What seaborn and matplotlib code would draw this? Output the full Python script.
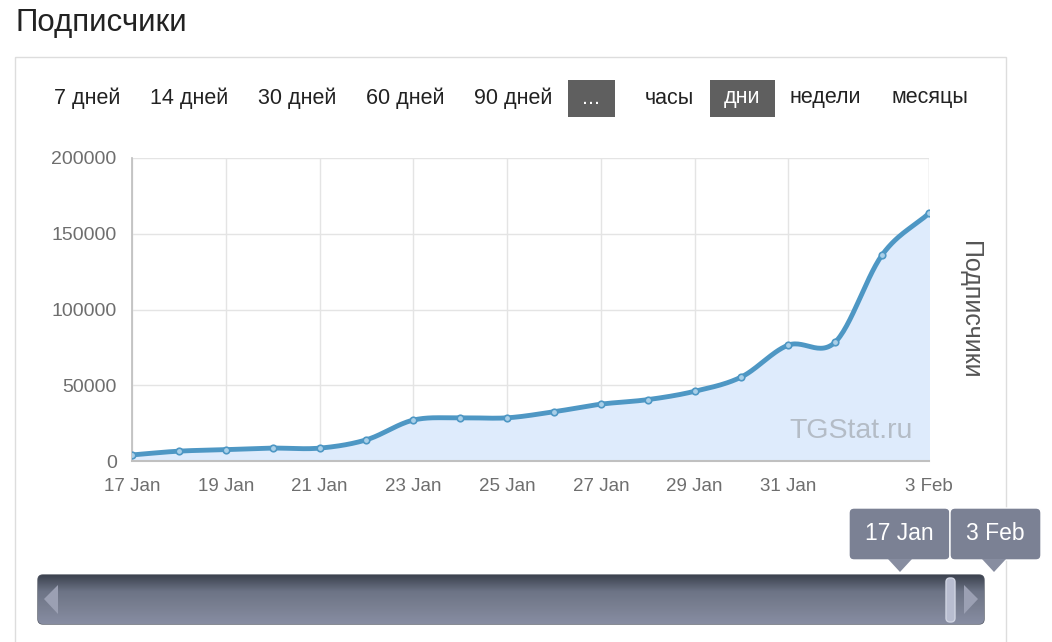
import numpy as np
import pandas as pd
import matplotlib
matplotlib.use("Agg")
import matplotlib.pyplot as plt
from matplotlib.patches import FancyBboxPatch, Rectangle, Polygon
from matplotlib.colors import LinearSegmentedColormap
import seaborn as sns

# данные
days = ["17 Jan", "18 Jan", "19 Jan", "20 Jan", "21 Jan", "22 Jan", "23 Jan", "24 Jan", "25 Jan",
        "26 Jan", "27 Jan", "28 Jan", "29 Jan", "30 Jan", "31 Jan", "1 Feb", "2 Feb", "3 Feb"]
subscribers = [4000, 6500, 7500, 8500, 8500, 14000, 27000, 28500, 28500,
               32500, 37500, 40500, 46000, 55500, 76500, 78500, 136000, 163500]
tick_labels = ["17 Jan", "19 Jan", "21 Jan", "23 Jan", "25 Jan", "27 Jan", "29 Jan", "31 Jan", "3 Feb"]
y_ticks = [0, 50000, 100000, 150000, 200000]
buttons = ["7 дней", "14 дней", "30 дней", "60 дней", "90 дней", "...", "часы", "дни", "недели", "месяцы"]
button_x = [87, 189, 297, 405, 513, 591, 669, 742, 825, 930]
active_buttons = ["...", "дни"]

LINE = "#4e97c4"
FILL = "#deebfc"
GRAY = "#6e6e6e"

sns.set_theme(style="white")
plt.rcParams["font.family"] = ["Liberation Sans", "DejaVu Sans"]

W, H = 1052, 642
fig = plt.figure(figsize=(W / 100, H / 100), dpi=100)
fig.patch.set_facecolor("white")

# фоновая "страница" в пикселях
bg = fig.add_axes([0, 0, 1, 1])
bg.set_xlim(0, W)
bg.set_ylim(H, 0)
bg.axis("off")

bg.text(15, 23, "Подписчики", fontsize=22.5, color="#222222", va="center", ha="left")
bg.add_patch(Rectangle((15, 57), 991, 600, fill=False, ec="#dddddd", lw=1))

for name, bx in zip(buttons, button_x):
    active = name in active_buttons
    if active:
        w = 47 if name == "..." else 65
        bg.add_patch(Rectangle((bx - w / 2, 80), w, 37, fc="#5f5f5f", ec="none"))
    bg.text(bx, 98, name, fontsize=15.5, ha="center", va="center",
            color="white" if active else "#222222")

# ползунок навигатора
cmap = LinearSegmentedColormap.from_list("nav", ["#3d4350", "#6d7486", "#7a8092", "#878da2"])
nav = FancyBboxPatch((38, 575), 946, 49, boxstyle="round,pad=0,rounding_size=5",
                     fc="none", ec="#555a66", lw=1)
bg.add_patch(nav)
im = bg.imshow(np.linspace(0, 1, 50).reshape(-1, 1), cmap=cmap, aspect="auto",
               extent=[38, 984, 624, 575], zorder=1)
im.set_clip_path(nav)
bg.add_patch(Polygon([[58, 585], [58, 614], [44, 599]], closed=True, fc="#9ba0b3", ec="none", zorder=2))
bg.add_patch(Polygon([[964, 585], [964, 614], [978, 599]], closed=True, fc="#9ba0b3", ec="none", zorder=2))
bg.add_patch(FancyBboxPatch((946, 578), 9, 44, boxstyle="round,pad=0,rounding_size=4",
                            fc="#b8bdd0", ec="#d0d4e2", lw=1, zorder=3))

# подсказки над ползунком
for label, x0, w, tip in [("17 Jan", 849, 101, 900), ("3 Feb", 950, 91, 994)]:
    bg.add_patch(FancyBboxPatch((x0, 508), w, 52, boxstyle="round,pad=0,rounding_size=5",
                                fc="#7b8194", ec="white", lw=1, zorder=4))
    bg.add_patch(Polygon([[tip - 12, 559], [tip + 12, 559], [tip, 572]], closed=True,
                         fc="#878da0", ec="none", zorder=4))
    bg.text(x0 + w / 2, 533, label, fontsize=16.5, color="white", ha="center", va="center", zorder=5)

# основной график
ax = fig.add_axes([132 / W, 1 - 461 / H, (929 - 132) / W, (461 - 158) / H])
df = pd.DataFrame({"day": np.arange(len(days)), "subs": subscribers})

# сглаживание линии (как spline в Highcharts)
x = df["day"].to_numpy(float)
y = df["subs"].to_numpy(float)
m = np.gradient(y, x)
xs, ys = [], []
for i in range(len(x) - 1):
    t = np.linspace(0, 1, 30)
    h00 = 2 * t**3 - 3 * t**2 + 1
    h10 = t**3 - 2 * t**2 + t
    h01 = -2 * t**3 + 3 * t**2
    h11 = t**3 - t**2
    xs.extend(x[i] + t)
    ys.extend(h00 * y[i] + h10 * m[i] + h01 * y[i + 1] + h11 * m[i + 1])
smooth = pd.DataFrame({"day": xs, "subs": ys})

ax.fill_between(smooth["day"], smooth["subs"], 0, color=FILL, zorder=1)
sns.lineplot(data=smooth, x="day", y="subs", ax=ax, color=LINE, lw=3.5, zorder=3)
sns.scatterplot(data=df, x="day", y="subs", ax=ax, s=22, color="#a9cfe8",
                edgecolor=LINE, linewidth=1.2, zorder=4)

tick_pos = [days.index(t) for t in tick_labels]
ax.set_xlim(0, len(days) - 1)
ax.set_ylim(0, 200000)
ax.set_xticks(tick_pos)
ax.set_xticklabels(tick_labels)
ax.set_yticks(y_ticks)
ax.set_yticklabels([str(v) for v in y_ticks])
ax.set_xlabel("")
ax.set_ylabel("")
ax.grid(True, color="#e4e4e4", lw=1)
ax.set_axisbelow(True)
for s in ["top", "right"]:
    ax.spines[s].set_visible(False)
ax.spines["left"].set_color("#c0c0c0")
ax.spines["bottom"].set_color("#c0c0c0")
ax.spines["bottom"].set_linewidth(1.5)
ax.tick_params(axis="x", colors=GRAY, labelsize=13.5, length=6, width=1, direction="out", pad=6)
ax.tick_params(axis="y", colors=GRAY, labelsize=14, length=0, pad=11)
ax.axvline(len(days) - 1, color="#e4e4e4", lw=1, zorder=0)

ax.text(0.98, 0.1, "TGStat.ru", transform=ax.transAxes, fontsize=20.5, color="#b4bcc6",
        ha="right", va="center", zorder=5)
fig.text(970 / W, 1 - 310 / H, "Подписчики", rotation=270, fontsize=18, color="#555555",
         ha="center", va="center")

fig.savefig("out.png", dpi=100)
